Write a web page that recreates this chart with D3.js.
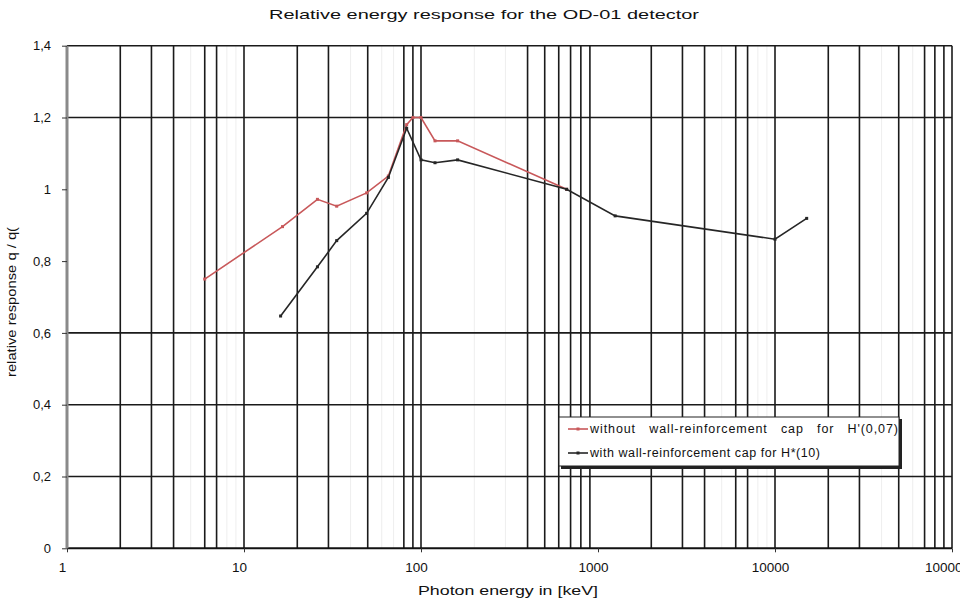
<!DOCTYPE html>
<html>
<head>
<meta charset="utf-8">
<script src="https://cdn.jsdelivr.net/npm/d3@7"></script>
<style>
	body { margin: 0; background: #fff; }
	svg { font-family: "Liberation Sans", Arial, sans-serif; }
	.grid { stroke: #1a1a1a; stroke-width: 1.6; }
	.ghost { stroke: #eeeeee; stroke-width: 1; }
</style>
</head>
<body>
<svg width="960" height="601"></svg>
<script>
// energies in keV
var energyWithout = [6, 16.5, 26, 33.4, 49.3, 65.4, 83, 90, 100, 120, 161, 665],
	respWithout = [0.75, 0.896, 0.972, 0.953, 0.99, 1.037, 1.18, 1.2, 1.2, 1.135, 1.135, 1.0],
	energyWith = [16.1, 26, 33.4, 49.3, 65.4, 83, 100, 120, 161, 665, 1250, 10000, 15100],
	respWith = [0.647, 0.784, 0.857, 0.933, 1.033, 1.17, 1.082, 1.074, 1.082, 1.0, 0.926, 0.861, 0.919],
	xTicks = [1, 10, 100, 1000, 10000, 100000],
	yTicks = [0, 0.2, 0.4, 0.6, 0.8, 1, 1.2, 1.4],
	xGrid = [2, 3, 4, 6, 7, 10, 20, 30, 50, 80, 90, 100, 400, 500, 600, 700, 800, 900,
		2000, 3000, 4000, 6000, 7000, 10000, 20000, 30000, 50000, 70000, 80000, 90000, 100000],
	yGrid = [0.2, 0.4, 0.6, 1.2, 1.4],
	seriesNames = ["without   wall-reinforcement   cap   for   H'(0,07)", "with wall-reinforcement cap for H*(10)"];

var svg = d3.select("svg");

var x = d3.scaleLog().domain([1, 100000]).range([67, 952]);
var y = d3.scaleLinear().domain([0, 1.4]).range([548.3, 45.7]);

var fmt = function(v){ return String(+v.toFixed(1)).replace(".", ","); };

// faint background lines (scan look)
var ghostVals = [];
for(var p = 0; p < 5; p++){
	for(var k = 2; k <= 9; k++){ ghostVals.push(k * Math.pow(10, p)); }
}
svg.append("g").selectAll("line").data(ghostVals).enter()
	.append("line")
	.attr("class", "ghost")
	.attr("x1", function(d){ return x(d); })
	.attr("x2", function(d){ return x(d); })
	.attr("y1", y(1.4))
	.attr("y2", y(0));

// grid
var grid = svg.append("g").attr("id", "grid");
grid.selectAll("line.v").data(xGrid).enter()
	.append("line")
	.attr("class", "grid v")
	.attr("x1", function(d){ return x(d); })
	.attr("x2", function(d){ return x(d); })
	.attr("y1", y(1.4))
	.attr("y2", y(0));
grid.selectAll("line.h").data(yGrid).enter()
	.append("line")
	.attr("class", "grid h")
	.attr("x1", x(1))
	.attr("x2", x(100000))
	.attr("y1", function(d){ return y(d); })
	.attr("y2", function(d){ return y(d); });

// axes
var xAxis = d3.axisBottom(x).tickValues(xTicks).tickSize(4).tickFormat(d3.format("d"));
var yAxis = d3.axisLeft(y).tickValues(yTicks).tickSize(5).tickFormat(fmt);

var gx = svg.append("g").attr("transform", "translate(0," + y(0) + ")").call(xAxis);
gx.select(".domain").attr("stroke", "#111").attr("stroke-width", 2).attr("d", "M" + x(1) + ",0H" + x(100000));
gx.selectAll(".tick line").attr("stroke", "#333");
gx.selectAll(".tick text").attr("font-size", 13.5).attr("font-family", "Liberation Sans, Arial").attr("fill", "#111")
	.attr("y", 10).attr("dy", "1.05em").attr("dx", -5);

var gy = svg.append("g").attr("transform", "translate(" + x(1) + ",0)").call(yAxis);
gy.select(".domain").attr("stroke", "#8a8a8a").attr("stroke-width", 3).attr("d", "M0," + y(1.4) + "V" + y(0));
gy.selectAll(".tick line").attr("stroke", "#333");
gy.selectAll(".tick text").attr("font-size", 13).attr("font-family", "Liberation Sans, Arial").attr("fill", "#111").attr("x", -16);

// series
var lineFunction = d3.line()
	.x(function(d){ return x(d.e); })
	.y(function(d){ return y(d.r); });

var series = [
	{ name: seriesNames[0], color: "#c8585a", pts: energyWithout.map(function(e, i){ return {e: e, r: respWithout[i]}; }) },
	{ name: seriesNames[1], color: "#262626", pts: energyWith.map(function(e, i){ return {e: e, r: respWith[i]}; }) }
];

var sg = svg.selectAll("g.series").data(series).enter()
	.append("g")
	.attr("class", "series");
sg.append("path")
	.attr("fill", "none")
	.attr("stroke", function(d){ return d.color; })
	.attr("stroke-width", 1.6)
	.attr("d", function(d){ return lineFunction(d.pts); });
sg.selectAll("rect").data(function(d){ return d.pts.map(function(p){ return {p: p, c: d.color}; }); }).enter()
	.append("rect")
	.attr("x", function(d){ return x(d.p.e) - 1.5; })
	.attr("y", function(d){ return y(d.p.r) - 1.5; })
	.attr("width", 3)
	.attr("height", 3)
	.attr("fill", function(d){ return d.c; });

// legend
var legend = svg.append("g").attr("transform", "translate(559,417)");
legend.append("rect")
	.attr("x", 2).attr("y", 2)
	.attr("width", 341).attr("height", 50)
	.attr("fill", "#222");
legend.append("rect")
	.attr("width", 340).attr("height", 49)
	.attr("fill", "#fff")
	.attr("stroke", "#222")
	.attr("stroke-width", 1);
var li = legend.selectAll("g.item").data(series).enter()
	.append("g")
	.attr("class", "item")
	.attr("transform", function(d, i){ return "translate(0," + (12 + i * 24) + ")"; });
li.append("line")
	.attr("x1", 9).attr("x2", 29)
	.attr("stroke", function(d){ return d.color; })
	.attr("stroke-width", 1.6);
li.append("rect")
	.attr("x", 17.5).attr("y", -1.5).attr("width", 3).attr("height", 3)
	.attr("fill", function(d){ return d.color; });
li.append("text")
	.attr("x", 31)
	.attr("dy", "0.35em")
	.attr("font-size", 12.5)
	.attr("fill", "#111")
	.attr("textLength", function(d, i){ return i == 0 ? 308 : 230; })
	.attr("lengthAdjust", "spacing")
	.attr("xml:space", "preserve")
	.text(function(d){ return d.name; });

// titles
svg.append("text")
	.attr("x", 484).attr("y", 19)
	.attr("text-anchor", "middle")
	.attr("font-size", 13)
	.attr("fill", "#111")
	.attr("textLength", 430)
	.attr("lengthAdjust", "spacingAndGlyphs")
	.text("Relative energy response for the OD-01 detector");
svg.append("text")
	.attr("x", 508).attr("y", 595)
	.attr("text-anchor", "middle")
	.attr("font-size", 12.5)
	.attr("fill", "#111")
	.attr("textLength", 180)
	.attr("lengthAdjust", "spacingAndGlyphs")
	.text("Photon energy in [keV]");
svg.append("text")
	.attr("transform", "translate(16,302) rotate(-90)")
	.attr("text-anchor", "middle")
	.attr("font-size", 12.5)
	.attr("fill", "#111")
	.attr("textLength", 150)
	.attr("lengthAdjust", "spacingAndGlyphs")
	.text("relative response q / q(");
</script>
</body>
</html>
